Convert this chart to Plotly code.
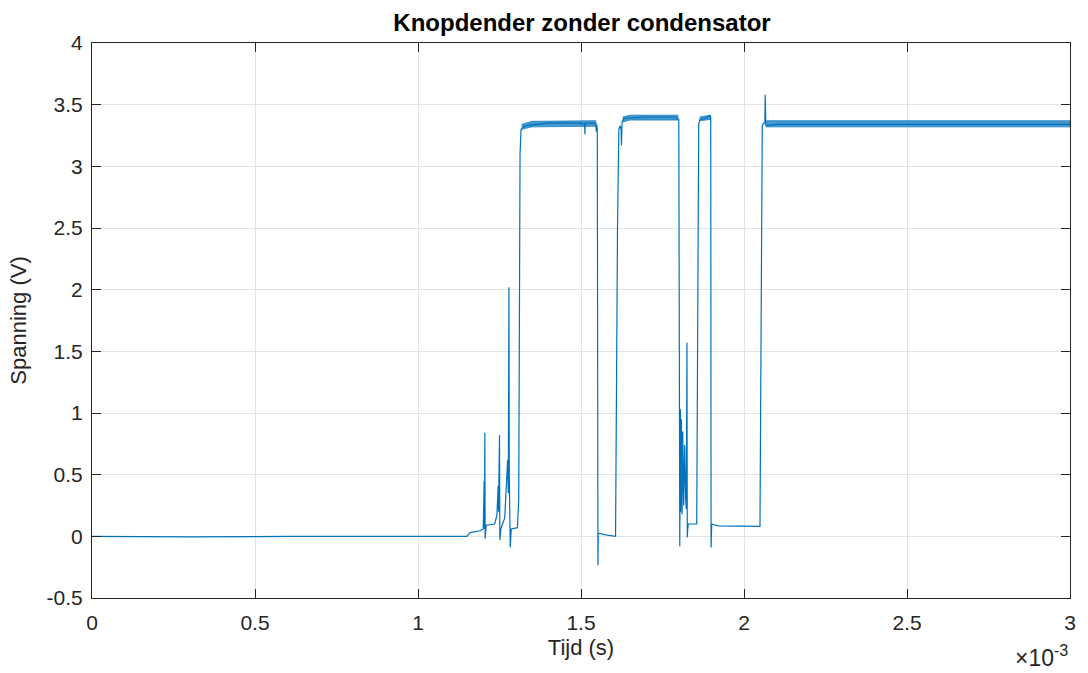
import plotly.graph_objects as go

# Time (ms) and voltage (V) breakpoints
time_ms = [
    0.0, 0.3, 0.6, 0.9, 1.15, 1.16, 1.19, 1.200, 1.203, 1.204, 1.205, 1.206,
    1.209, 1.235, 1.242, 1.246, 1.247, 1.250, 1.251, 1.254, 1.266, 1.272,
    1.275, 1.277, 1.279, 1.280, 1.283, 1.286, 1.305, 1.309, 1.313, 1.316,
    1.33, 1.40, 1.50, 1.511, 1.512, 1.513, 1.545, 1.547, 1.548, 1.550,
    1.552, 1.553, 1.58, 1.606, 1.612, 1.616, 1.620, 1.623, 1.624, 1.626,
    1.632, 1.70, 1.79, 1.800, 1.803, 1.805, 1.806, 1.808, 1.810, 1.812,
    1.815, 1.818, 1.821, 1.823, 1.825, 1.826, 1.827, 1.829, 1.853, 1.855,
    1.861, 1.865, 1.880, 1.895, 1.898, 1.899, 1.901, 1.92, 2.0, 2.049,
    2.056, 2.060, 2.064, 2.065, 2.067, 2.1, 2.5, 3.0,
]
voltage = [
    0.0, -0.005, 0.0, 0.0, 0.0, 0.03, 0.045, 0.06, 0.45, 0.06, 0.84, -0.02,
    0.09, 0.10, 0.17, 0.41, 0.20, 0.82, -0.03, 0.06, 0.15, 0.45,
    0.62, 0.35, 2.02, 0.50, -0.09, 0.06, 0.07, 0.30, 3.10, 3.30,
    3.33, 3.35, 3.35, 3.34, 3.26, 3.35, 3.35, 3.28, 3.34, 3.30,
    -0.235, 0.025, 0.01, 0.0, 2.50, 3.30, 3.33, 3.30, 3.17, 3.36,
    3.39, 3.40, 3.40, 3.38, -0.08, 1.03, 0.20, 0.95, 0.18, 0.85,
    0.25, 0.74, 0.30, 0.22, 1.57, -0.01, 0.05, 0.10, 0.10, 0.10,
    3.34, 3.38, 3.39, 3.41, 3.40, -0.09, 0.10, 0.085, 0.08, 0.08,
    3.33, 3.35, 3.35, 3.58, 3.33, 3.34, 3.34, 3.34,
]

# Ripple envelope (min / max) on the high plateaus
ripple1_t = [1.318, 1.35, 1.545]
ripple1_lo = [3.30, 3.32, 3.325]
ripple1_hi = [3.34, 3.365, 3.37]
ripple2_t = [1.628, 1.65, 1.797]
ripple2_lo = [3.36, 3.375, 3.375]
ripple2_hi = [3.40, 3.415, 3.415]
ripple3_t = [1.864, 1.897]
ripple3_lo = [3.37, 3.38]
ripple3_hi = [3.40, 3.415]
ripple4_t = [2.068, 2.5, 3.0]
ripple4_lo = [3.32, 3.32, 3.32]
ripple4_hi = [3.37, 3.37, 3.37]

x_ticks = [0, 0.5, 1, 1.5, 2, 2.5, 3]
y_ticks = [-0.5, 0, 0.5, 1, 1.5, 2, 2.5, 3, 3.5, 4]

FONT = "Liberation Sans, Arial, Helvetica, sans-serif"
AX = "#262626"
GRID = "#e3e3e3"
LINE = "#0072BD"


def ms(arr):
    return [t * 1e-3 for t in arr]


fig = go.Figure()
for rt, rlo, rhi in [
    (ripple1_t, ripple1_lo, ripple1_hi),
    (ripple2_t, ripple2_lo, ripple2_hi),
    (ripple3_t, ripple3_lo, ripple3_hi),
    (ripple4_t, ripple4_lo, ripple4_hi),
]:
    fig.add_trace(go.Scatter(
        x=ms(rt) + ms(rt)[::-1], y=rhi + rlo[::-1],
        mode="lines", fill="toself",
        fillcolor="rgba(0,114,189,0.72)",
        line=dict(color="rgba(0,114,189,0.85)", width=0.8),
        hoverinfo="skip", showlegend=False,
    ))

fig.add_trace(go.Scatter(
    x=ms(time_ms), y=voltage, mode="lines",
    line=dict(color=LINE, width=1.2),
    hoverinfo="skip", showlegend=False,
))

fig.update_layout(
    width=1088, height=673,
    margin=dict(l=92, r=16, t=43, b=75),
    paper_bgcolor="white", plot_bgcolor="white",
    font=dict(family=FONT, size=21, color=AX),
    title=dict(
        text="<b>Knopdender zonder condensator</b>",
        x=(92 + 1072) / 2 / 1088, xanchor="center",
        y=1 - 23 / 673, yanchor="middle",
        font=dict(family=FONT, size=24, color="black"),
    ),
)

fig.update_xaxes(
    range=[0, 3e-3],
    tickvals=ms(x_ticks),
    ticktext=[f"{v:g}" for v in x_ticks],
    ticks="inside", ticklen=9, tickwidth=1, tickcolor=AX,
    showline=True, linecolor=AX, linewidth=1, mirror="ticks",
    showgrid=True, gridcolor=GRID, gridwidth=1,
    zeroline=False, ticklabelstandoff=6,
    tickfont=dict(size=21, color=AX),
    title=dict(text="Tijd (s)", font=dict(size=22, color=AX), standoff=6),
)
fig.update_yaxes(
    range=[-0.5, 4],
    tickvals=y_ticks,
    ticktext=[f"{v:g}" for v in y_ticks],
    ticks="inside", ticklen=9, tickwidth=1, tickcolor=AX,
    showline=True, linecolor=AX, linewidth=1, mirror="ticks",
    showgrid=True, gridcolor=GRID, gridwidth=1,
    zeroline=False, ticklabelstandoff=4,
    tickfont=dict(size=21, color=AX),
    title=dict(text="Spanning (V)", font=dict(size=22, color=AX), standoff=13),
)

fig.add_annotation(
    text="×10<sup>-3</sup>", xref="paper", yref="paper",
    x=1, y=-(673 - 598) / 555, xanchor="right", yanchor="bottom",
    showarrow=False, font=dict(family=FONT, size=23, color=AX),
)

fig.write_html("out.html")
